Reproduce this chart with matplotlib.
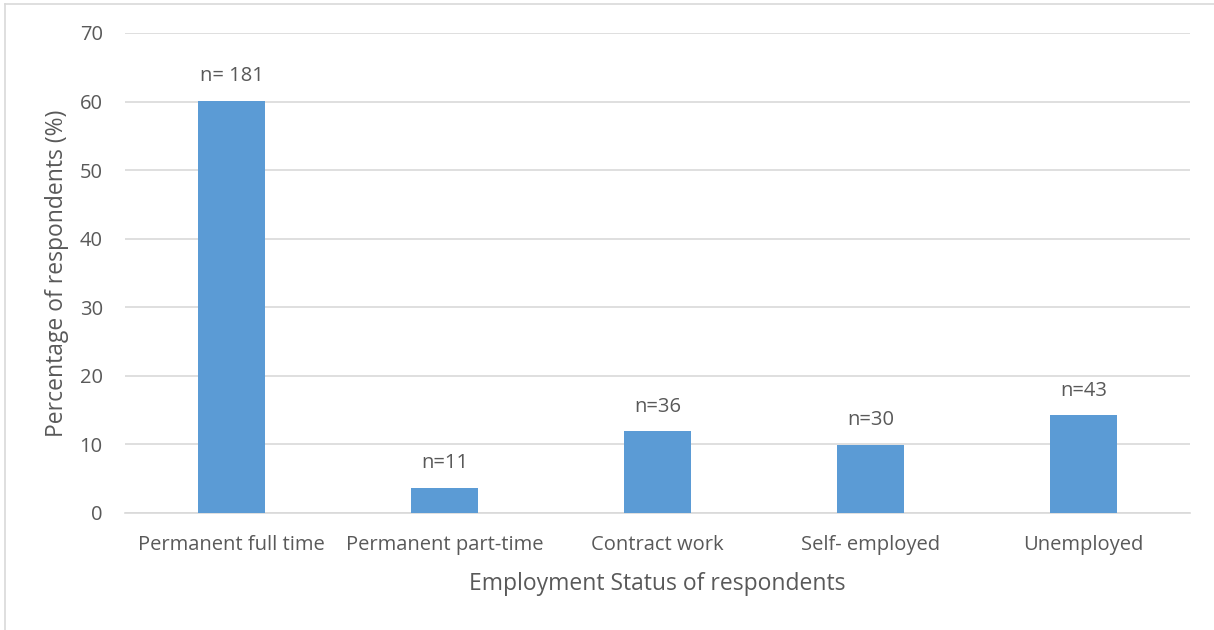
import matplotlib
matplotlib.use("Agg")
import matplotlib.pyplot as plt
from matplotlib.lines import Line2D

# Employment status of survey respondents
categories = ["Permanent full time", "Permanent part-time", "Contract work",
              "Self- employed", "Unemployed"]
counts = [181, 11, 36, 30, 43]
count_labels = ["n= 181", "n=11", "n=36", "n=30", "n=43"]
y_ticks = [0, 10, 20, 30, 40, 50, 60, 70]

total = sum(counts)
percentages = [c / total * 100 for c in counts]

BAR = "#5B9BD5"
TEXT = "#595959"
GRID = "#D9D9D9"

plt.rcParams["font.family"] = ["Open Sans", "DejaVu Sans"]

fig = plt.figure(figsize=(12.14, 6.30), dpi=100)
ax = fig.add_axes([125 / 1214, 1 - 513 / 630, (1190 - 125) / 1214, (513 - 33) / 630])

x = list(range(len(categories)))
bars = ax.bar(x, percentages, width=0.31, color=BAR, zorder=3)

for xi, p, lab in zip(x, percentages, count_labels):
    ax.annotate(lab, (xi, p), xytext=(0, 14), textcoords="offset points",
                ha="center", va="baseline", fontsize=14.5, color=TEXT)

ax.set_xlim(-0.5, len(categories) - 0.5)
ax.set_ylim(0, 70)
ax.set_yticks(y_ticks)
ax.set_xticks(x)
ax.set_xticklabels(categories)
ax.tick_params(axis="both", length=0, labelsize=14.5, labelcolor=TEXT)
ax.tick_params(axis="y", pad=16)
ax.tick_params(axis="x", pad=16)
ax.yaxis.grid(True, color=GRID, linewidth=1.2, zorder=0)
for side in ("top", "right", "left"):
    ax.spines[side].set_visible(False)
ax.spines["bottom"].set_color(GRID)
ax.spines["bottom"].set_linewidth(1.2)

ax.set_xlabel("Employment Status of respondents", fontsize=16.5, color=TEXT, labelpad=12)
ax.set_ylabel("Percentage of respondents (%)", fontsize=16.5, color=TEXT, labelpad=8)

# Light frame along the top and left edge of the figure
fig.add_artist(Line2D([5 / 1214, 1], [1 - 4 / 630, 1 - 4 / 630],
                      transform=fig.transFigure, color=GRID, linewidth=1.2))
fig.add_artist(Line2D([5 / 1214, 5 / 1214], [0, 1 - 4 / 630],
                      transform=fig.transFigure, color=GRID, linewidth=1.2))

fig.savefig("out.png", dpi=100, facecolor="white")
